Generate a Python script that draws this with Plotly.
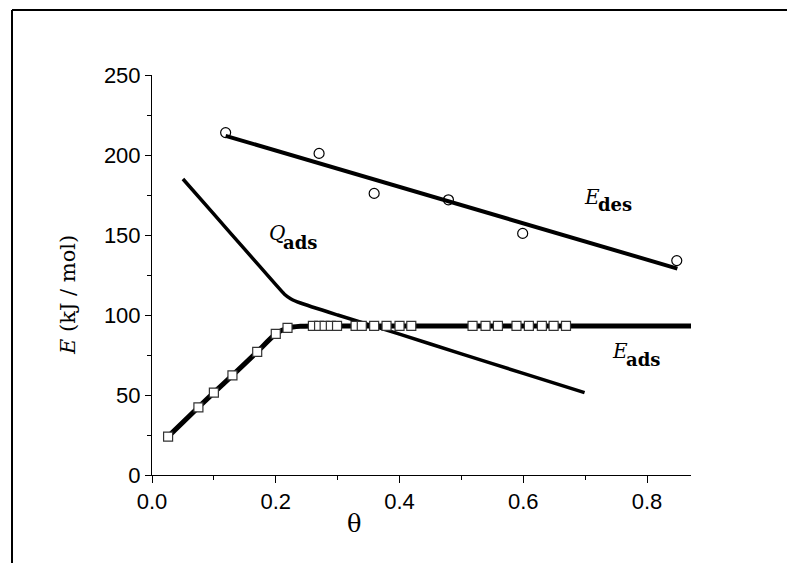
import plotly.graph_objects as go

# E_des experimental points (circles) and linear fit
edes_x = [0.119, 0.27, 0.359, 0.479, 0.599, 0.848]
edes_y = [214, 201, 176, 172, 151, 134]
edes_fit_x = [0.119, 0.849]
edes_fit_y = [212, 129]

# Q_ads curve
qads_x = [0.050, 0.10, 0.15, 0.20, 0.214, 0.224, 0.24, 0.30, 0.40, 0.50, 0.60, 0.699]
qads_y = [185, 163, 141, 119, 113, 110.2, 107.5, 100, 88, 75.7, 63.5, 51.5]

# E_ads points (squares)
eads_x = [0.026, 0.075, 0.10, 0.13, 0.17, 0.20, 0.219,
          0.26, 0.27, 0.279, 0.289, 0.299, 0.329, 0.339, 0.359, 0.379, 0.40, 0.419,
          0.518, 0.539, 0.559, 0.589, 0.609, 0.63, 0.649, 0.669]
eads_y = [24, 42.3, 51.5, 62.3, 77, 88.2, 92,
          93.2, 93.2, 93.2, 93.2, 93.2, 93.2, 93.2, 93.2, 93.2, 93.2, 93.2,
          93.2, 93.2, 93.2, 93.2, 93.2, 93.2, 93.2, 93.2]
# E_ads smooth line
eads_line_x = [0.026, 0.075, 0.10, 0.13, 0.17, 0.20, 0.22, 0.24, 0.26, 0.30, 0.871]
eads_line_y = [24, 42.3, 51.5, 62.3, 77, 88.2, 92, 93, 93.2, 93.2, 93.2]

# curve labels: (junction x, main y, sub y, main text, subscript text)
curve_labels = [
    (0.722, 174.0, 168.9, "E", "des"),
    (0.2136, 151.2, 145.6, "Q", "ads"),
    (0.7675, 77.3, 72.5, "E", "ads"),
]

SERIF = "DejaVu Serif, Liberation Serif, serif"

fig = go.Figure()

fig.add_trace(go.Scatter(x=edes_fit_x, y=edes_fit_y, mode="lines",
                         line=dict(color="black", width=4), showlegend=False))
fig.add_trace(go.Scatter(x=edes_x, y=edes_y, mode="markers",
                         marker=dict(symbol="circle-open", size=10, color="black",
                                     line=dict(width=1.2)), showlegend=False))
fig.add_trace(go.Scatter(x=qads_x, y=qads_y, mode="lines",
                         line=dict(color="black", width=3.5, shape="spline", smoothing=0.5),
                         showlegend=False))
fig.add_trace(go.Scatter(x=eads_line_x, y=eads_line_y, mode="lines",
                         line=dict(color="black", width=5, shape="spline", smoothing=0.6),
                         showlegend=False))
fig.add_trace(go.Scatter(x=eads_x, y=eads_y, mode="markers",
                         marker=dict(symbol="square", size=9, color="white",
                                     line=dict(color="#333", width=1.2)), showlegend=False))

for x, ym, ys, main, sub in curve_labels:
    fig.add_annotation(x=x, y=ym, text="<i>%s</i>" % main, showarrow=False,
                       font=dict(family=SERIF, size=20, color="black"),
                       xanchor="right", yanchor="middle", borderpad=0, xshift=2)
    fig.add_annotation(x=x, y=ys, text="<b>%s</b>" % sub, showarrow=False,
                       font=dict(family=SERIF, size=18, color="black"),
                       xanchor="left", yanchor="middle", borderpad=0, xshift=-2)

# y-axis title
fig.add_annotation(xref="paper", yref="y", x=(68 - 152) / 539, y=112.5,
                   text="<i>E</i> (kJ / mol)", textangle=-90, showarrow=False,
                   font=dict(family=SERIF, size=21, color="black"),
                   xanchor="center", yanchor="middle")
# x-axis title
fig.add_annotation(xref="x", yref="paper", x=(354 - 152) / 618, y=(475 - 524) / 400,
                   text="θ", showarrow=False,
                   font=dict(family=SERIF, size=24, color="black"),
                   xanchor="center", yanchor="middle")

# outer frame (left and top edges)
fig.add_shape(type="line", xref="paper", yref="paper",
              x0=(12 - 152) / 539, x1=(12 - 152) / 539, y0=(475 - 10) / 400, y1=(475 - 600) / 400,
              line=dict(color="black", width=2))
fig.add_shape(type="line", xref="paper", yref="paper",
              x0=(12 - 152) / 539, x1=(800 - 152) / 539, y0=(475 - 10) / 400, y1=(475 - 10) / 400,
              line=dict(color="black", width=2))

tick_font = dict(family="Liberation Sans, Arial, sans-serif", size=22, color="black")
fig.update_xaxes(range=[0, 0.871], tickmode="array", tickvals=[0, 0.2, 0.4, 0.6, 0.8],
                 ticktext=["0.0", "0.2", "0.4", "0.6", "0.8"],
                 ticks="outside", ticklen=7, tickwidth=1, tickcolor="black",
                 minor=dict(tickvals=[0.1, 0.3, 0.5, 0.7], ticks="outside", ticklen=4,
                            tickcolor="black", tickwidth=1),
                 showline=True, linecolor="black", linewidth=1, showgrid=False, zeroline=False,
                 tickfont=tick_font)
fig.update_yaxes(range=[0, 250], tickmode="array", tickvals=[0, 50, 100, 150, 200, 250],
                 ticks="outside", ticklen=6, tickwidth=1, tickcolor="black",
                 minor=dict(tickvals=[25, 75, 125, 175, 225], ticks="outside", ticklen=4,
                            tickcolor="black", tickwidth=1),
                 showline=True, linecolor="black", linewidth=1, showgrid=False, zeroline=False,
                 tickfont=tick_font)

fig.update_layout(width=787, height=563, margin=dict(l=152, r=96, t=75, b=88),
                  plot_bgcolor="white", paper_bgcolor="white")

fig.write_html("out.html", config={"displayModeBar": False},
               post_script="document.body.style.margin='0';")
